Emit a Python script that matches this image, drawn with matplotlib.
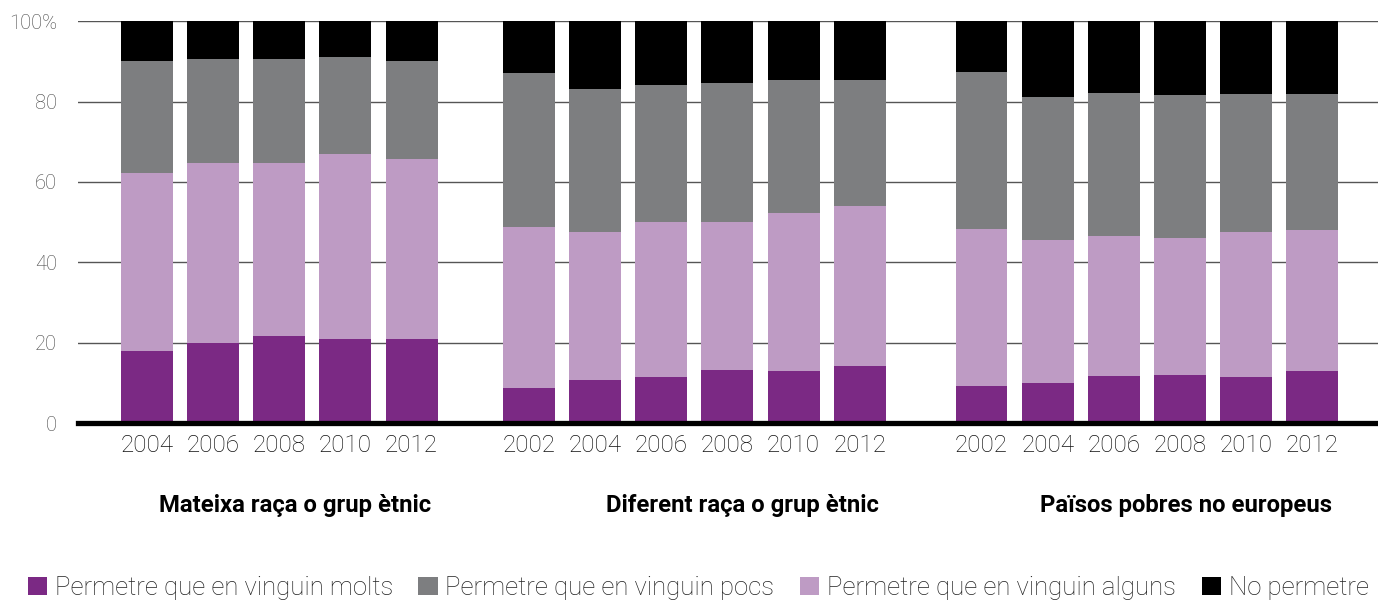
import numpy as np
import matplotlib
matplotlib.use("Agg")
from matplotlib import pyplot as plt

plt.rcParams['font.family'] = ['Roboto', 'DejaVu Sans']

# Colors
MOLTS_C = '#7B2984'
ALGUNS_C = '#BE9BC4'
POCS_C = '#7D7E80'
NO_C = '#000000'

# Data (segment sizes, %)
titles = ['Mateixa raça o grup ètnic', 'Diferent raça o grup ètnic', 'Països pobres no europeus']
years_1 = ['2004', '2006', '2008', '2010', '2012']
years_2 = ['2002', '2004', '2006', '2008', '2010', '2012']
years_3 = ['2002', '2004', '2006', '2008', '2010', '2012']

molts_1 = [18.0, 20.0, 21.7, 21.0, 21.0]
alguns_1 = [44.2, 44.7, 43.0, 45.9, 44.7]
pocs_1 = [27.8, 25.8, 25.8, 24.1, 24.3]
no_1 = [10.0, 9.5, 9.5, 9.0, 10.0]

molts_2 = [8.8, 10.8, 11.5, 13.2, 13.0, 14.2]
alguns_2 = [40.0, 36.7, 38.5, 36.8, 39.2, 39.8]
pocs_2 = [38.2, 35.5, 34.0, 34.5, 33.1, 31.3]
no_2 = [13.0, 17.0, 16.0, 15.5, 14.7, 14.7]

molts_3 = [9.3, 10.0, 11.8, 12.0, 11.5, 13.0]
alguns_3 = [39.0, 35.6, 34.8, 34.1, 36.0, 35.0]
pocs_3 = [39.0, 35.5, 35.5, 35.5, 34.3, 33.8]
no_3 = [12.7, 18.9, 17.9, 18.4, 18.2, 18.2]

legend_labels = ['Permetre que en vinguin molts', 'Permetre que en vinguin pocs',
                 'Permetre que en vinguin alguns', 'No permetre']

groups = [
    (years_1, molts_1, alguns_1, pocs_1, no_1),
    (years_2, molts_2, alguns_2, pocs_2, no_2),
    (years_3, molts_3, alguns_3, pocs_3, no_3),
]
group_start = [0.0, 5.77, 12.61]
BAR_W = 0.785

fig = plt.figure(figsize=(13.78, 6.03), dpi=100)
ax = fig.add_axes([0.0566, 0.298, 0.9434, 0.667])

handles = {}
all_pos, all_lbl = [], []
for g, (years, molts, alguns, pocs, no) in enumerate(groups):
    pos = group_start[g] + np.arange(len(years))
    bottom = np.zeros(len(years))
    for name, vals, col in [('molts', molts, MOLTS_C), ('alguns', alguns, ALGUNS_C),
                            ('pocs', pocs, POCS_C), ('no', no, NO_C)]:
        b = ax.bar(pos, vals, BAR_W, bottom=bottom, color=col, zorder=2)
        handles[name] = b
        bottom = bottom + np.array(vals)
    all_pos.extend(pos)
    all_lbl.extend(years)
    # group title, right aligned to the group
    ax.text(pos[-1] + BAR_W / 2 - 0.1, -0.205, titles[g], transform=ax.get_xaxis_transform(),
            ha='right', va='center', fontsize=17.2, fontweight='bold', color='black')

ax.set_xticks(all_pos)
ax.set_xticklabels(all_lbl, fontsize=17.5, color='#111111', fontweight='light')
ax.set_xlim(-1.04, 18.6)
ax.set_ylim(0, 100)
ax.set_yticks([0, 20, 40, 60, 80, 100])
ax.set_yticklabels(['0', '20', '40', '60', '80', '100%'], fontsize=14.5, color='#444444',
                   fontweight='light')
ax.tick_params(length=0)
ax.tick_params(axis='x', pad=8)
ax.tick_params(axis='y', pad=15)
for s in ax.spines.values():
    s.set_visible(False)
ax.yaxis.grid(True, color='#555555', lw=1)
ax.set_axisbelow(True)
ax.axhline(0, color='black', lw=3.8, zorder=3, clip_on=False)

leg = fig.legend([handles['molts'], handles['pocs'], handles['alguns'], handles['no']],
                 legend_labels, ncol=4, loc='center left', bbox_to_anchor=(0.02, 0.025),
                 frameon=False, fontsize=18.5, handlelength=0.75, handleheight=0.75,
                 handletextpad=0.3, columnspacing=1.0, borderaxespad=0, borderpad=0)
for t in leg.get_texts():
    t.set_fontweight('light')
    t.set_color('#222222')

fig.savefig('out.png', dpi=100)
